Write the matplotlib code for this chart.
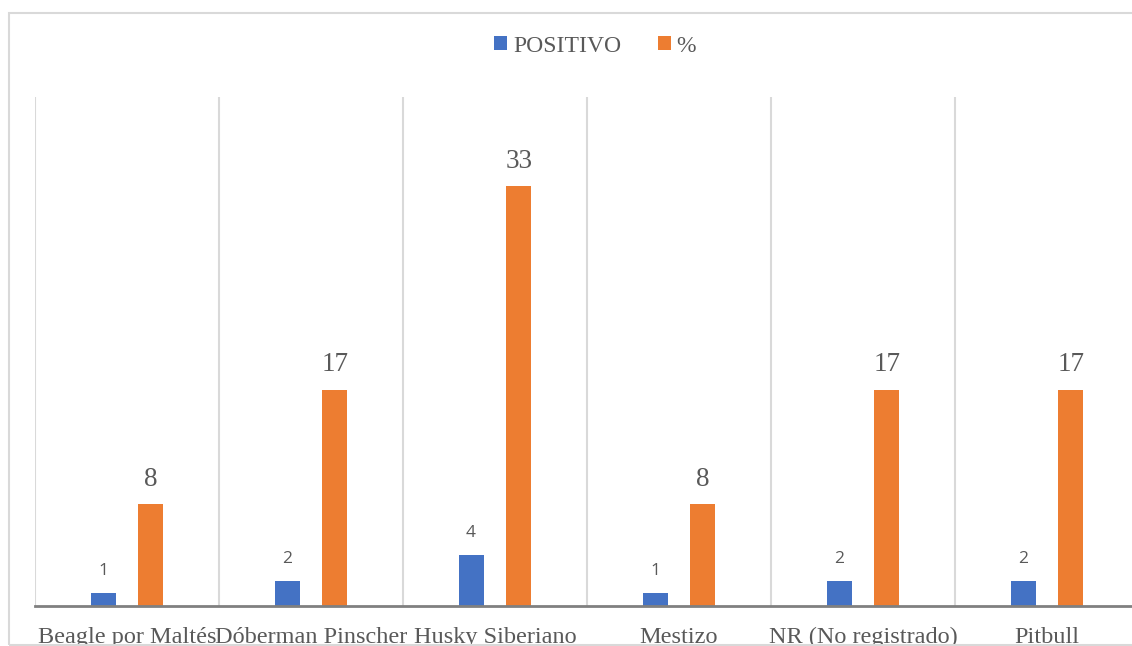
import numpy as np
import matplotlib.pyplot as plt
from matplotlib.patches import Rectangle

# data
razas = ['Beagle por Maltés', 'Dóberman Pinscher', 'Husky Siberiano',
         'Mestizo', 'NR (No registrado)', 'Pitbull']
positivo = [1, 2, 4, 1, 2, 2]
porcentaje = [8, 17, 33, 8, 17, 17]

azul = '#4472C4'
naranja = '#ED7D31'
gris_txt = '#595959'

fig = plt.figure(figsize=(11.32, 6.46), dpi=100)
ax = fig.add_axes([35 / 1132, 40 / 646, 1104 / 1132, 509 / 646])

x = np.arange(len(razas))
w = 0.136
b1 = ax.bar(x - 0.13, positivo, w, color=azul, label='POSITIVO', zorder=3)
b2 = ax.bar(x + 0.13, porcentaje, w, color=naranja, label='%', zorder=3)

for rect, v in zip(b1, positivo):
    ax.annotate(str(v), (rect.get_x() + rect.get_width() / 2, rect.get_height()),
                xytext=(0, 10), textcoords='offset points', ha='center', va='bottom',
                fontsize=12.5, color=gris_txt, family='Open Sans')
for rect, v in zip(b2, porcentaje):
    ax.annotate(str(v), (rect.get_x() + rect.get_width() / 2, rect.get_height()),
                xytext=(0, 9), textcoords='offset points', ha='center', va='bottom',
                fontsize=19.5, color=gris_txt, family='Liberation Serif')

# separators between categories
for b in np.arange(-0.5, len(razas), 1.0):
    ax.axvline(b, color='#D9D9D9', lw=1.5, zorder=1)

ax.set_xlim(-0.5, len(razas) - 0.5)
ax.set_ylim(0, 40)
ax.set_yticks([])
ax.set_xticks(x)
ax.set_xticklabels(razas, family='Liberation Serif', fontsize=17.5, color=gris_txt)
ax.tick_params(axis='x', length=0, pad=15)
for s in ['top', 'right', 'left']:
    ax.spines[s].set_visible(False)
ax.spines['bottom'].set_color('#808080')
ax.spines['bottom'].set_linewidth(2)
ax.spines['bottom'].set_zorder(4)

leg = fig.legend(loc='center', bbox_to_anchor=(595 / 1132, 1 - 46 / 646), ncol=2,
                 frameon=False, handlelength=0.55, handleheight=0.55, handletextpad=0.25,
                 columnspacing=1.55, prop={'family': 'Liberation Serif', 'size': 17})
for t in leg.get_texts():
    t.set_color(gris_txt)

# outer frame of the chart area
fig.patches.append(Rectangle((9 / 1132, 1 / 646), 1.2, 1 - 14 / 646,
                             transform=fig.transFigure, fill=False,
                             edgecolor='#D9D9D9', lw=1.5))

fig.savefig('out.png', dpi=100)
